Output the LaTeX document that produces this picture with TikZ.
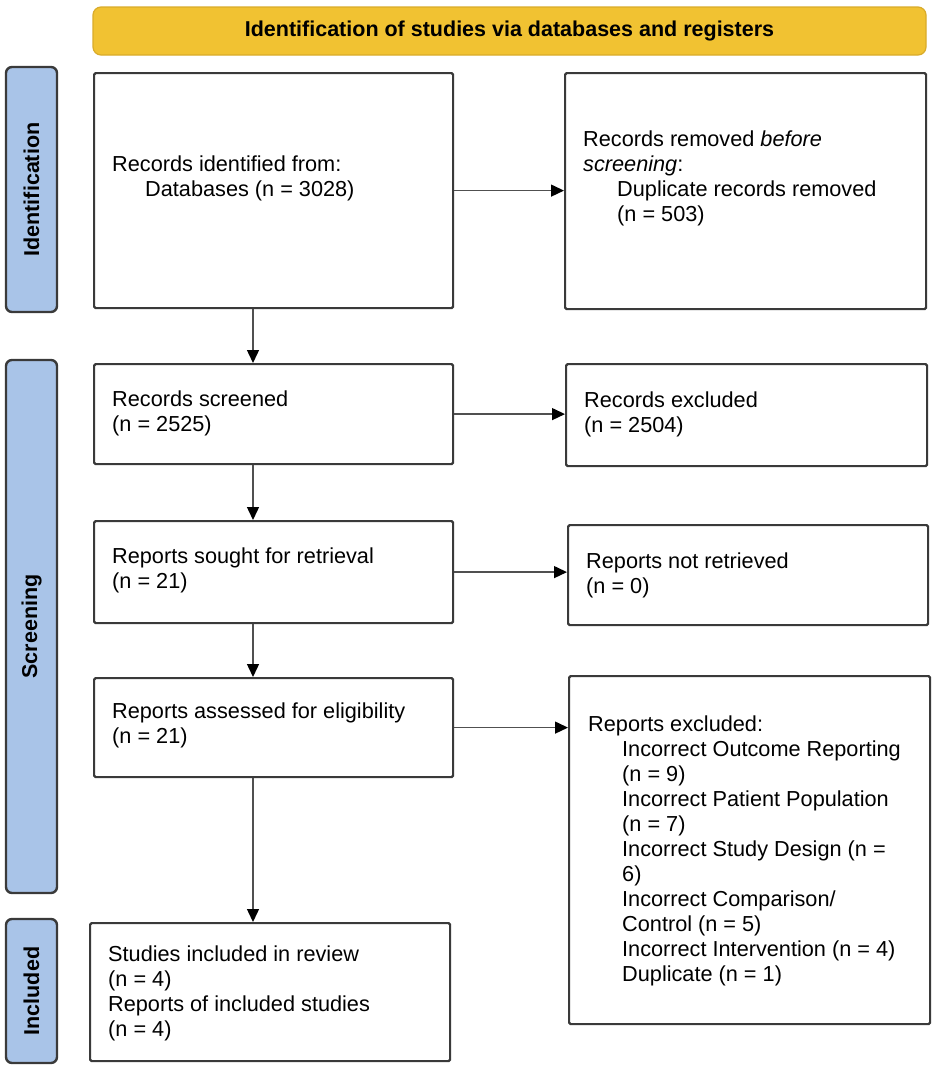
\documentclass[tikz,border=0pt]{standalone}
\usepackage{fontspec}
\setmainfont{Liberation Sans}
\usetikzlibrary{arrows.meta}
\definecolor{gold}{HTML}{F1C232}
\definecolor{goldline}{HTML}{D9AB2A}
\definecolor{barblue}{HTML}{A9C4E8}
\definecolor{edge}{HTML}{3A3A3A}
\definecolor{arrowgray}{HTML}{505050}
\begin{document}
\begin{tikzpicture}[x=1pt,y=-1pt,
  box/.style={draw=edge, line width=2.2pt, rounded corners=1.5pt, fill=white, inner sep=0pt, anchor=north west},
  sidebar/.style={draw=edge, line width=2.4pt, rounded corners=6pt, fill=barblue, rotate=90, inner sep=0pt,
    font=\fontsize{21.5}{25}\selectfont\bfseries},
  header/.style={draw=goldline, line width=1.2pt, rounded corners=8pt, fill=gold, inner sep=0pt,
    font=\fontsize{21.5}{25}\selectfont\bfseries},
  txt/.style={align=left, inner sep=0pt, anchor=north west, font=\fontsize{21.7}{25}\selectfont},
  arr/.style={draw=arrowgray, line width=1.4pt, -{Triangle[length=13pt,width=12pt,color=black]}}
]
\useasboundingbox (0,0) rectangle (935,1069);

% header
\node[header, minimum width=833pt, minimum height=48pt] (hdr) at (509.5,31) {Identification of studies via databases and registers};

% side bars
\node[sidebar, minimum width=245pt, minimum height=51pt] (bid) at (31.5,189.5) {Identification};
\node[sidebar, minimum width=533pt, minimum height=51pt] (bsc) at (31.5,626.5) {Screening};
\node[sidebar, minimum width=144pt, minimum height=51pt] (bin) at (31.5,991) {Included};

% boxes
\node[box, minimum width=359pt, minimum height=235pt] (id) at (93,72) {};
\node[box, minimum width=361pt, minimum height=236pt] (rm) at (564,72) {};
\node[box, minimum width=359pt, minimum height=100pt] (scr) at (93,363) {};
\node[box, minimum width=361pt, minimum height=102pt] (rex) at (565,363) {};
\node[box, minimum width=359pt, minimum height=102pt] (sou) at (93,520) {};
\node[box, minimum width=360pt, minimum height=100pt] (nr) at (567,524) {};
\node[box, minimum width=359pt, minimum height=99pt] (ass) at (93,677) {};
\node[box, minimum width=361pt, minimum height=348pt] (rpx) at (568,675) {};
\node[box, minimum width=360pt, minimum height=138pt] (inc) at (89,922) {};

% texts
\node[txt] (idt) at (112,156) {Records identified from:\\\hspace*{33pt}Databases (n = 3028)};
\node[txt] (rmt) at (583,131) {Records removed \textit{before}\\\textit{screening}:\\\hspace*{34pt}Duplicate records removed\\\hspace*{34pt}(n = 503)};
\node[txt] (scrt) at (112,391) {Records screened\\(n = 2525)};
\node[txt] (rext) at (584,392) {Records excluded\\(n = 2504)};
\node[txt] (sout) at (112,548) {Reports sought for retrieval\\(n = 21)};
\node[txt] (nrt) at (586,553) {Reports not retrieved\\(n = 0)};
\node[txt] (asst) at (112,703) {Reports assessed for eligibility\\(n = 21)};
\node[txt] (rpxt) at (588,716) {Reports excluded:\\
\hspace*{34pt}Incorrect Outcome Reporting\\
\hspace*{34pt}(n = 9)\\
\hspace*{34pt}Incorrect Patient Population\\
\hspace*{34pt}(n = 7)\\
\hspace*{34pt}Incorrect Study Design (n =\\
\hspace*{34pt}6)\\
\hspace*{34pt}Incorrect Comparison/\\
\hspace*{34pt}Control (n = 5)\\
\hspace*{34pt}Incorrect Intervention (n = 4)\\
\hspace*{34pt}Duplicate (n = 1)};
\node[txt] (inct) at (108,946) {Studies included in review\\(n = 4)\\Reports of included studies\\(n = 4)};

% arrows
\coordinate (ax) at (253,0);
\draw[arr] (id.south -| ax) -- (scr.north -| ax);
\draw[arr] (scr.south -| ax) -- (sou.north -| ax);
\draw[arr] (sou.south -| ax) -- (ass.north -| ax);
\draw[arr] (ass.south -| ax) -- (inc.north -| ax);

\draw[arr] (id.east) -- (id.east -| rm.west);
\draw[arr] (scr.east) -- (scr.east -| rex.west);
\draw[arr] (sou.east) -- (sou.east -| nr.west);
\draw[arr] (ass.east) -- (ass.east -| rpx.west);
\end{tikzpicture}
\end{document}
